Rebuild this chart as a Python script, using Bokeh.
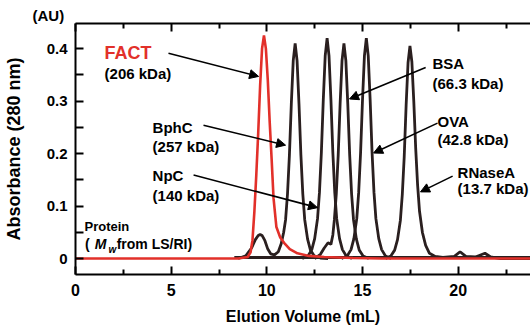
from bokeh.plotting import figure
from bokeh.models import (Range1d, LinearAxis, FixedTicker, Label, Arrow, NormalHead, Title)
from bokeh.embed import file_html
from bokeh.resources import INLINE

# ---------------- data ----------------
fact_x = [0, 8.5, 9.0, 9.15, 9.25, 9.35, 9.45, 9.55, 9.65, 9.75, 9.85, 9.95, 10.05,
          10.15, 10.25, 10.35, 10.5, 10.7, 10.9, 11.2, 11.6, 12.2, 13.0, 14.5, 16.0, 24.0]
fact_y = [0, 0, 0.003, 0.012, 0.035, 0.09, 0.16, 0.24, 0.33, 0.40, 0.425, 0.40, 0.34,
          0.26, 0.19, 0.115, 0.06, 0.04, 0.03, 0.018, 0.01, 0.005, 0.003, 0.001, 0, 0]

bphc_x = [8.5, 8.9, 9.2, 9.4, 9.55, 9.65, 9.75, 9.9, 10.05, 10.2, 10.4, 10.6, 10.75,
          10.88, 10.98, 11.08, 11.18, 11.28, 11.38, 11.48, 11.58, 11.68, 11.78, 11.88,
          11.98, 12.13, 12.28, 12.48, 12.8, 13.2]
bphc_y = [0, 0.005, 0.02, 0.036, 0.044, 0.046, 0.044, 0.034, 0.018, 0.009, 0.007, 0.013,
          0.028, 0.05, 0.074, 0.123, 0.197, 0.295, 0.377, 0.41, 0.377, 0.295, 0.197, 0.123,
          0.074, 0.037, 0.016, 0.005, 0.001, 0]

npc_x = [11.85, 12.15, 12.35, 12.5, 12.65, 12.75, 12.85, 12.95, 13.05, 13.15, 13.25,
         13.35, 13.45, 13.55, 13.65, 13.8, 13.95, 14.15, 14.45]
npc_y = [0, 0.005, 0.017, 0.038, 0.076, 0.126, 0.202, 0.302, 0.386, 0.42, 0.386,
         0.302, 0.202, 0.126, 0.076, 0.038, 0.017, 0.005, 0]

bsa_x = [12.5, 12.8, 13.0, 13.2, 13.35, 13.45, 13.53, 13.63, 13.73, 13.83, 13.93, 14.03,
         14.13, 14.23, 14.33, 14.43, 14.53, 14.68, 14.83, 15.03, 15.33]
bsa_y = [0, 0.008, 0.02, 0.03, 0.027, 0.045, 0.074, 0.123, 0.197, 0.295, 0.377, 0.41,
         0.377, 0.295, 0.197, 0.123, 0.074, 0.037, 0.016, 0.005, 0]

ova_x = [13.9, 14.2, 14.4, 14.55, 14.7, 14.8, 14.9, 15.0, 15.1, 15.2, 15.3, 15.4, 15.5,
         15.6, 15.7, 15.85, 16.0, 16.2, 16.5]
ova_y = [0, 0.005, 0.017, 0.038, 0.076, 0.126, 0.202, 0.302, 0.386, 0.42, 0.386, 0.302,
         0.202, 0.126, 0.076, 0.038, 0.017, 0.005, 0]

rnase_x = [16.2, 16.48, 16.68, 16.83, 16.98, 17.08, 17.18, 17.28, 17.38, 17.48, 17.58,
           17.68, 17.78, 17.88, 17.98, 18.13, 18.3, 18.5, 18.8, 19.2, 19.8, 20.1, 20.4,
           20.9, 21.4, 21.7, 22.2, 24.0]
rnase_y = [0, 0.005, 0.016, 0.036, 0.073, 0.122, 0.194, 0.292, 0.373, 0.405, 0.375,
           0.30, 0.21, 0.14, 0.09, 0.05, 0.025, 0.01, 0.004, 0.002, 0.004, 0.013, 0.004,
           0.003, 0.01, 0.003, 0, 0]

base_x = [8.3, 24.0]
base_y = [0.002, 0.002]

x_ticks = [0, 5, 10, 15, 20]
x_minor = [2.5, 7.5, 12.5, 17.5, 22.5]
y_ticks = [0, 0.1, 0.2, 0.3, 0.4]
y_minor = [0.05, 0.15, 0.25, 0.35]

FONT = "Liberation Sans"
RED = "#e2302a"
DARK = "#2a1f1f"

p = figure(width=530, height=327, output_backend="svg", toolbar_location=None,
           x_range=Range1d(0, 23.78), y_range=Range1d(-0.0304, 0.4478),
           min_border_left=75, min_border_right=0, min_border_top=23, min_border_bottom=52)
p.grid.visible = False
p.outline_line_color = None
p.background_fill_color = "white"
p.border_fill_color = "white"

p.title = Title(text="(AU)", align="left", offset=-43, text_font=FONT,
                text_font_style="bold", text_font_size="15px", text_color="black",
                standoff=0)

# curves
for xs, ys in [(base_x, base_y), (bphc_x, bphc_y), (npc_x, npc_y), (bsa_x, bsa_y),
               (ova_x, ova_y), (rnase_x, rnase_y)]:
    p.line(xs, ys, line_color=DARK, line_width=2.8)
p.line(fact_x, fact_y, line_color=RED, line_width=2.6)

# axes
def style_axis(ax, ticks, minor, fs):
    ax.ticker = FixedTicker(ticks=ticks, minor_ticks=minor)
    ax.axis_line_width = 2
    ax.axis_line_color = "black"
    ax.major_tick_line_width = 2
    ax.minor_tick_line_width = 2
    ax.major_tick_out = 0
    ax.minor_tick_out = 0
    ax.major_label_text_font = FONT
    ax.major_label_text_font_style = "bold"
    ax.major_label_text_font_size = fs
    ax.major_label_text_color = "black"
    ax.axis_label_text_font = FONT
    ax.axis_label_text_font_style = "bold"
    ax.axis_label_text_color = "black"

xa = p.xaxis[0]
style_axis(xa, x_ticks, x_minor, "16px")
xa.major_tick_in = 8
xa.minor_tick_in = 5
xa.major_label_standoff = 9
xa.axis_label = "Elution Volume (mL)"
xa.axis_label_text_font_size = "16px"
xa.axis_label_standoff = 9

ya = p.yaxis[0]
style_axis(ya, y_ticks, y_minor, "15px")
ya.major_tick_in = 8
ya.minor_tick_in = 8
ya.major_label_standoff = 8
ya.axis_label = "Absorbance (280 nm)"
ya.axis_label_text_font_size = "18px"
ya.axis_label_standoff = 20

top = LinearAxis()
style_axis(top, x_ticks, x_minor, "10px")
top.major_label_overrides = {t: "" for t in x_ticks}
top.major_tick_in = 8
top.minor_tick_in = 5
top.major_label_standoff = 0
p.add_layout(top, "above")

# labels
def lab(x, y, t, size="15px", color="black", style="bold"):
    p.add_layout(Label(x=x, y=y, text=t, text_font=FONT, text_font_style=style,
                       text_font_size=size, text_color=color, text_baseline="middle",
                       text_align="left"))

lab(1.52, 0.391, "FACT", "18px", RED)
lab(1.52, 0.352, "(206 kDa)")
lab(4.03, 0.250, "BphC")
lab(4.03, 0.214, "(257 kDa)")
lab(4.03, 0.159, "NpC")
lab(4.03, 0.121, "(140 kDa)")
lab(0.47, 0.061, "Protein", "13px")
lab(0.50, 0.027, "(", "14px")
lab(1.0, 0.027, "M", "14px", style="bold italic")
lab(1.72, 0.018, "w", "10px", style="bold italic")
lab(2.15, 0.027, "from LS/RI)", "14px")
lab(18.66, 0.371, "BSA")
lab(18.66, 0.333, "(66.3 kDa)")
lab(18.92, 0.262, "OVA")
lab(18.92, 0.226, "(42.8 kDa)")
lab(19.97, 0.163, "RNaseA")
lab(19.97, 0.133, "(13.7 kDa)")

# arrows
for xs, ys, xe, ye in [(4.86, 0.391, 9.57, 0.347), (6.69, 0.254, 10.98, 0.216),
                       (6.17, 0.159, 12.65, 0.097), (18.3, 0.364, 14.32, 0.304),
                       (18.92, 0.258, 15.58, 0.201), (19.71, 0.157, 18.03, 0.127)]:
    p.add_layout(Arrow(x_start=xs, y_start=ys, x_end=xe, y_end=ye, line_width=1.6,
                       line_color="black",
                       end=NormalHead(size=9, fill_color="black", line_color="black")))

open("out.html", "w").write(file_html(p, INLINE))
